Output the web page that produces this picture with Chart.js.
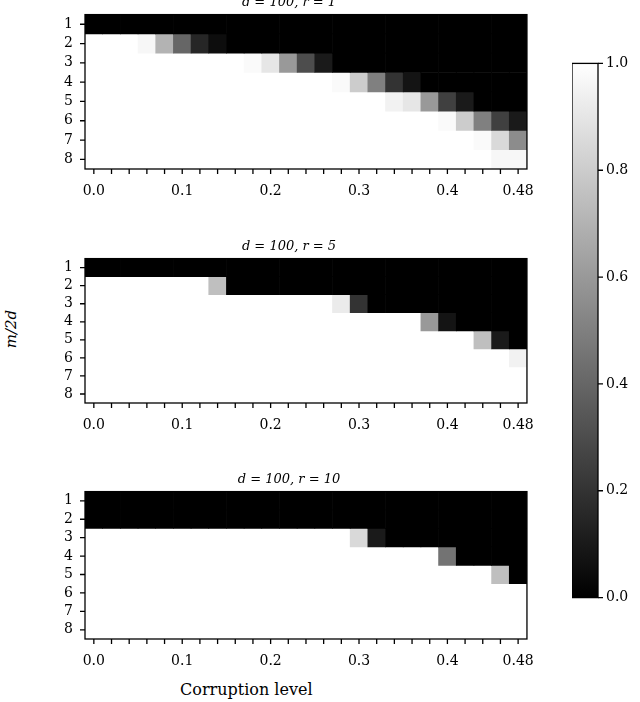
<!DOCTYPE html>
<html>
<head>
<meta charset="utf-8">
<script src="https://cdn.jsdelivr.net/npm/chart.js@4.4.1/dist/chart.umd.min.js"></script>
<style>
  body { margin: 0; background: #fff; width: 640px; height: 702px; position: relative; overflow: hidden; font-family: "DejaVu Serif", serif; }
  .panel { position: absolute; }
  .lbl { position: absolute; font-family: "DejaVu Serif", serif; font-size: 15px; color: #000; }
</style>
</head>
<body>
<canvas id="p1" class="panel"></canvas>
<canvas id="p2" class="panel"></canvas>
<canvas id="p3" class="panel"></canvas>
<canvas id="cbar" class="panel"></canvas>
<div class="lbl" style="left:-8px; top:320px; transform: rotate(-90deg); font-style: italic;">m/2d</div>
<div class="lbl" style="left:180px; top:680px; font-size:16px;">Corruption level</div>
<script>
const corruption = ['0.0','0.02','0.04','0.06','0.08','0.1','0.12','0.14','0.16','0.18','0.2','0.22','0.24',
  '0.26','0.28','0.3','0.32','0.34','0.36','0.38','0.4','0.42','0.44','0.46','0.48'];
const shownTicks = { 0: '0.0', 5: '0.1', 10: '0.2', 15: '0.3', 20: '0.4', 24: '0.48' };
const rowLabels = ['1','2','3','4','5','6','7','8'];

// success probability per row (m/2d = 1..8), 25 corruption levels each
const r1 = [
  [0,0,0,0,0,0,0,0,0,0,0,0,0,0,0,0,0,0,0,0,0,0,0,0,0],
  [1,1,1,0.97,0.7,0.4,0.15,0.05,0,0,0,0,0,0,0,0,0,0,0,0,0,0,0,0,0],
  [1,1,1,1,1,1,1,1,1,0.98,0.9,0.6,0.3,0.1,0,0,0,0,0,0,0,0,0,0,0],
  [1,1,1,1,1,1,1,1,1,1,1,1,1,1,0.98,0.8,0.5,0.2,0.08,0,0,0,0,0,0],
  [1,1,1,1,1,1,1,1,1,1,1,1,1,1,1,1,1,0.95,0.9,0.6,0.25,0.1,0,0,0],
  [1,1,1,1,1,1,1,1,1,1,1,1,1,1,1,1,1,1,1,1,0.98,0.8,0.5,0.25,0.1],
  [1,1,1,1,1,1,1,1,1,1,1,1,1,1,1,1,1,1,1,1,1,1,0.98,0.85,0.55],
  [1,1,1,1,1,1,1,1,1,1,1,1,1,1,1,1,1,1,1,1,1,1,1,0.97,0.97]
];
const r5 = [
  [0,0,0,0,0,0,0,0,0,0,0,0,0,0,0,0,0,0,0,0,0,0,0,0,0],
  [1,1,1,1,1,1,1,0.75,0,0,0,0,0,0,0,0,0,0,0,0,0,0,0,0,0],
  [1,1,1,1,1,1,1,1,1,1,1,1,1,1,0.92,0.2,0,0,0,0,0,0,0,0,0],
  [1,1,1,1,1,1,1,1,1,1,1,1,1,1,1,1,1,1,1,0.6,0.08,0,0,0,0],
  [1,1,1,1,1,1,1,1,1,1,1,1,1,1,1,1,1,1,1,1,1,1,0.75,0.1,0],
  [1,1,1,1,1,1,1,1,1,1,1,1,1,1,1,1,1,1,1,1,1,1,1,1,0.95],
  [1,1,1,1,1,1,1,1,1,1,1,1,1,1,1,1,1,1,1,1,1,1,1,1,1],
  [1,1,1,1,1,1,1,1,1,1,1,1,1,1,1,1,1,1,1,1,1,1,1,1,1]
];
const r10 = [
  [0,0,0,0,0,0,0,0,0,0,0,0,0,0,0,0,0,0,0,0,0,0,0,0,0],
  [0,0,0,0,0,0,0,0,0,0,0,0,0,0,0,0,0,0,0,0,0,0,0,0,0],
  [1,1,1,1,1,1,1,1,1,1,1,1,1,1,1,0.85,0.1,0,0,0,0,0,0,0,0],
  [1,1,1,1,1,1,1,1,1,1,1,1,1,1,1,1,1,1,1,1,0.45,0,0,0,0],
  [1,1,1,1,1,1,1,1,1,1,1,1,1,1,1,1,1,1,1,1,1,1,1,0.75,0],
  [1,1,1,1,1,1,1,1,1,1,1,1,1,1,1,1,1,1,1,1,1,1,1,1,1],
  [1,1,1,1,1,1,1,1,1,1,1,1,1,1,1,1,1,1,1,1,1,1,1,1,1],
  [1,1,1,1,1,1,1,1,1,1,1,1,1,1,1,1,1,1,1,1,1,1,1,1,1]
];
const cbarTicks = [0, 0.2, 0.4, 0.6, 0.8, 1.0];

const FONT = 'DejaVu Serif';
const gray = v => { const g = Math.round(v * 255); return `rgb(${g},${g},${g})`; };

function place(id, left, top, w, h) {
    const c = document.getElementById(id);
    c.style.left = left + 'px';
    c.style.top = top + 'px';
    c.style.width = w + 'px';
    c.style.height = h + 'px';
    c.width = w;
    c.height = h;
    return c;
}

const frame = {
    id: 'frame',
    afterDatasetsDraw(chart) {
        const { ctx, chartArea: a } = chart;
        ctx.save();
        ctx.strokeStyle = '#000';
        ctx.lineWidth = 1.3;
        ctx.strokeRect(a.left, a.top, a.right - a.left, a.bottom - a.top);
        ctx.restore();
    }
};

function renderPanel(id, top, plotH, title, grid) {
    const titleH = 24;
    const canvas = place(id, 45, top - titleH + 3, 503, titleH + plotH + 34);
    const datasets = grid.map((row, i) => ({
        label: rowLabels[i],
        data: row.map(() => 1),
        backgroundColor: row.map(gray),
        borderWidth: 0,
        barPercentage: 1,
        categoryPercentage: 1,
        stack: 's'
    }));
    new Chart(canvas.getContext('2d'), {
        type: 'bar',
        data: { labels: corruption, datasets },
        options: {
            responsive: false,
            maintainAspectRatio: false,
            animation: false,
            layout: { padding: { left: 0, right: 15, top: 0, bottom: 0 } },
            plugins: {
                legend: { display: false },
                tooltip: { enabled: false },
                title: {
                    display: true,
                    text: title,
                    color: '#000',
                    padding: { top: 2, bottom: 4 },
                    font: { family: FONT, size: 13, style: 'italic', weight: 'normal' }
                }
            },
            scales: {
                x: {
                    stacked: true,
                    afterFit: s => { s.height = 34; },
                    grid: { display: false, drawTicks: false },
                    border: { display: false },
                    ticks: {
                        autoSkip: false, maxRotation: 0, color: '#000', padding: 14,
                        font: { family: FONT, size: 14 },
                        callback: (v, i) => shownTicks[i] !== undefined ? shownTicks[i] : ''
                    }
                },
                y: {
                    stacked: true,
                    min: 0, max: 8,
                    reverse: true,
                    afterFit: s => { s.width = 40; },
                    afterBuildTicks: s => { s.ticks = rowLabels.map((l, i) => ({ value: i + 0.5 })); },
                    grid: { display: false },
                    border: { display: false },
                    ticks: {
                        color: '#000', padding: 4,
                        font: { family: FONT, size: 14 },
                        callback: v => String(v + 0.5)
                    }
                }
            }
        },
        plugins: [frame, {
            id: 'ticks',
            afterDraw(chart) {
                const { ctx, chartArea: a, scales } = chart;
                ctx.save();
                ctx.strokeStyle = '#000';
                ctx.lineWidth = 1.3;
                ctx.beginPath();
                corruption.forEach((c, i) => {
                    const x = scales.x.getPixelForTick(i);
                    ctx.moveTo(x, a.bottom); ctx.lineTo(x, a.bottom + 5);
                });
                rowLabels.forEach((l, i) => {
                    const y = scales.y.getPixelForValue(i + 0.5);
                    ctx.moveTo(a.left, y); ctx.lineTo(a.left - 5, y);
                });
                ctx.stroke();
                ctx.restore();
            }
        }]
    });
}

renderPanel('p1', 14, 152, 'd = 100, r = 1', r1);
renderPanel('p2', 258, 142, 'd = 100, r = 5', r5);
renderPanel('p3', 491, 145, 'd = 100, r = 10', r10);

// colorbar
const cbCanvas = place('cbar', 572, 47, 68, 567);
new Chart(cbCanvas.getContext('2d'), {
    type: 'bar',
    data: {
        labels: ['c'],
        datasets: [{
            data: [1],
            borderWidth: 0,
            barPercentage: 1,
            categoryPercentage: 1,
            backgroundColor: ctx => {
                const a = ctx.chart.chartArea;
                if (!a) return '#888';
                const g = ctx.chart.ctx.createLinearGradient(0, a.bottom, 0, a.top);
                g.addColorStop(0, '#000');
                g.addColorStop(1, '#fff');
                return g;
            }
        }]
    },
    options: {
        responsive: false,
        animation: false,
        layout: { padding: { top: 0, bottom: 0, left: 0, right: 0 } },
        plugins: { legend: { display: false }, tooltip: { enabled: false } },
        scales: {
            x: { display: false },
            y: { display: false, min: 0, max: 1 },
            yr: {
                position: 'right', min: 0, max: 1,
                afterFit: s => { s.width = 42; },
                afterBuildTicks: s => { s.ticks = cbarTicks.map(v => ({ value: v })); },
                grid: { display: false, drawTicks: false },
                border: { display: false },
                ticks: {
                    color: '#000', padding: 8,
                    font: { family: FONT, size: 14 },
                    callback: v => v.toFixed(1)
                }
            }
        }
    },
    plugins: [frame, {
        id: 'cbticks',
        afterDraw(chart) {
            const { ctx, chartArea: a, scales } = chart;
            ctx.save();
            ctx.strokeStyle = '#000';
            ctx.lineWidth = 1.3;
            ctx.beginPath();
            cbarTicks.forEach(v => {
                const y = scales.yr.getPixelForValue(v);
                ctx.moveTo(a.right, y); ctx.lineTo(a.right + 5, y);
            });
            ctx.stroke();
            ctx.restore();
        }
    }]
});
</script>
</body>
</html>
